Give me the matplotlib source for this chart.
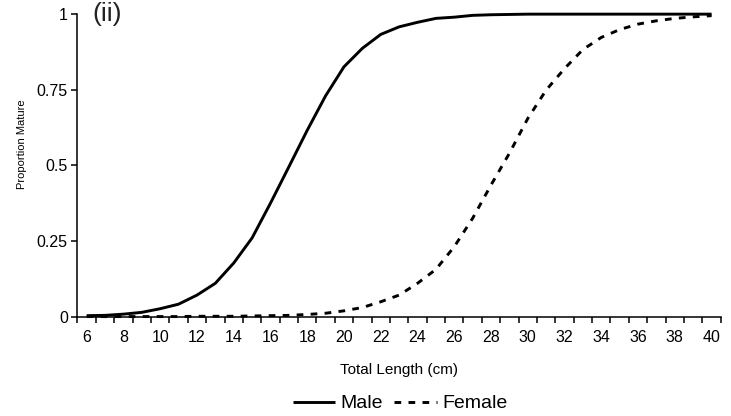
import matplotlib
matplotlib.use("Agg")
import matplotlib.pyplot as plt
from matplotlib.ticker import FixedLocator

plt.rcParams['font.family'] = ['Liberation Sans', 'DejaVu Sans']

# total length classes (cm)
lengths = list(range(6, 41))
male = [0.003, 0.004, 0.008, 0.014, 0.026, 0.041, 0.071, 0.11, 0.177, 0.26,
        0.375, 0.495, 0.616, 0.73, 0.826, 0.887, 0.933, 0.958, 0.973, 0.986,
        0.99, 0.996, 0.998, 0.999, 1.0, 1.0, 1.0, 1.0, 1.0, 1.0,
        1.0, 1.0, 1.0, 1.0, 1.0]
female = [0.0, 0.0, 0.0, 0.0, 0.0, 0.0, 0.001, 0.001, 0.001, 0.002,
          0.003, 0.004, 0.007, 0.011, 0.019, 0.03, 0.049, 0.071, 0.11, 0.156,
          0.231, 0.325, 0.435, 0.54, 0.655, 0.749, 0.82, 0.883, 0.923, 0.949,
          0.967, 0.978, 0.986, 0.991, 0.995]
x_labels = list(range(6, 41, 2))
y_ticks = [0, 0.25, 0.5, 0.75, 1]
y_labels = ['0', '0.25', '0.5', '0.75', '1']

fig = plt.figure(figsize=(7.31, 4.16), dpi=100)
ax = fig.add_axes([0.106, 0.239, 0.88, 0.727])

ax.plot(lengths, male, color='black', lw=2.1, solid_capstyle='butt',
        label='Male', clip_on=False, zorder=3)
ax.plot(lengths, female, color='black', lw=2.1, dashes=(2.3, 2.5),
        label='Female', clip_on=False, zorder=3)

ax.set_xlim(5.5, 40.5)
ax.set_ylim(0, 1)

# category style axis: labels on every other class, ticks on class edges
ax.set_xticks(x_labels)
ax.set_xticklabels([str(v) for v in x_labels])
ax.xaxis.set_minor_locator(FixedLocator([v + 0.5 for v in range(5, 41)]))
ax.tick_params(axis='x', which='major', length=0, pad=10, labelsize=11.5)
ax.tick_params(axis='x', which='minor', length=4, width=1.1, direction='out')

ax.set_yticks(y_ticks)
ax.set_yticklabels(y_labels)
ax.tick_params(axis='y', length=4, width=1.1, direction='out', pad=3, labelsize=11.5)

for s in ['top', 'right']:
    ax.spines[s].set_visible(False)
for s in ['left', 'bottom']:
    ax.spines[s].set_linewidth(1.1)

ax.set_xlabel('Total Length (cm)', fontsize=11)
ax.xaxis.set_label_coords(0.5, -0.155)
fig.text(0.03, 1 - 144 / 416, 'Proportion Mature', rotation=90, fontsize=8,
         ha='center', va='center')

ax.text(0.023, 1.0, '(ii)', transform=ax.transAxes, fontsize=19,
        ha='left', va='center', color='#222222')

fig.legend(loc='center', bbox_to_anchor=(0.547, 0.03), ncol=2, frameon=False,
           fontsize=14, handlelength=2.2, handletextpad=0.25, columnspacing=0.6)

fig.savefig('out.png', dpi=100)
